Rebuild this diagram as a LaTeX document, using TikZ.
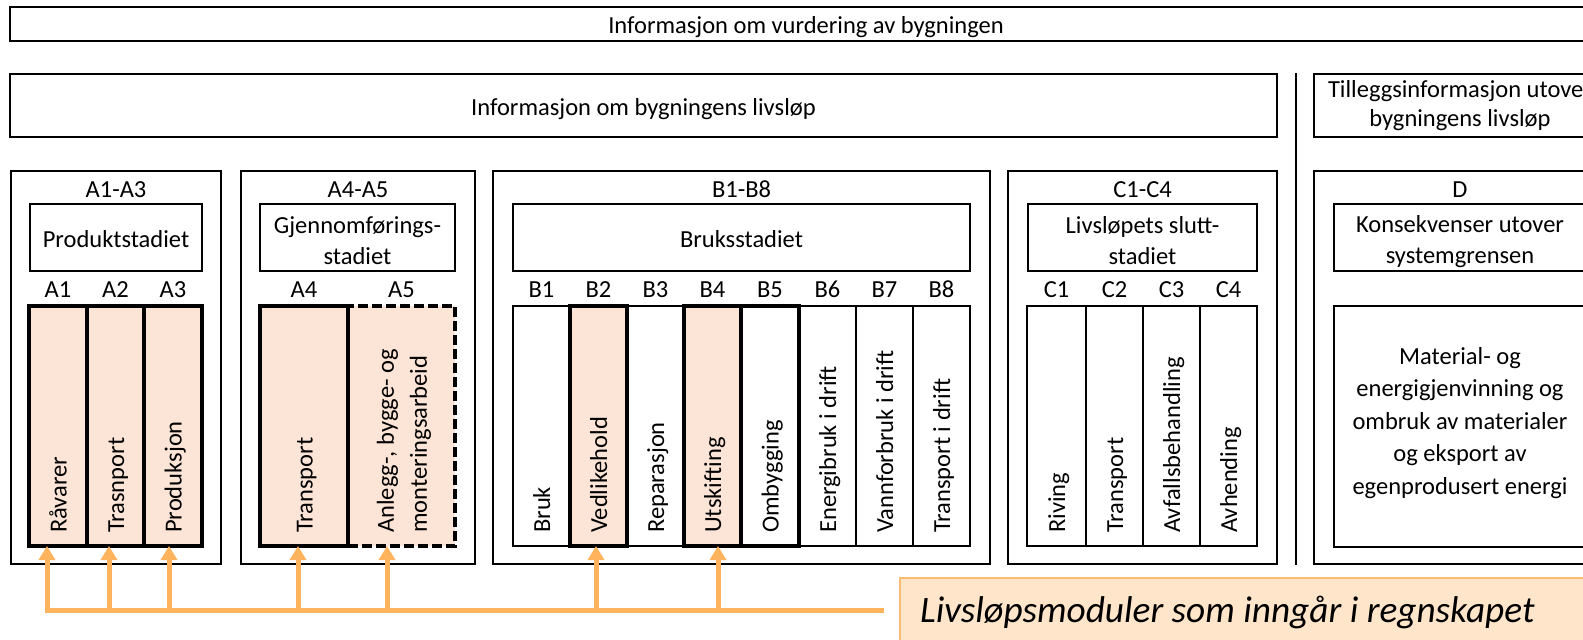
\documentclass[tikz,border=0pt]{standalone}
\usepackage{fontspec}
\setmainfont{Carlito}
\usetikzlibrary{fit,arrows.meta}
\definecolor{peach}{HTML}{FCE4D6}
\definecolor{orng}{HTML}{FFB35C}
\definecolor{legfill}{HTML}{FFE5CA}
\definecolor{legline}{HTML}{F9BA74}
\begin{document}
\begin{tikzpicture}[x=1pt,y=-1pt,
  font=\fontsize{24.5}{31}\selectfont,
  frame/.style={draw, line width=2.2pt, inner sep=0pt, outer sep=0pt},
  thincol/.style={draw, line width=1.6pt, inner sep=0pt, outer sep=0pt},
  hotcol/.style={draw, fill=peach, line width=3.3pt, inner sep=0pt, outer sep=0pt},
  boldcol/.style={draw, line width=3.3pt, inner sep=0pt, outer sep=0pt},
  txt/.style={inner sep=0pt, align=center},
  lbl/.style={inner sep=0pt, anchor=base},
  vtxt/.style={rotate=90, anchor=base west, inner sep=0pt},
  feed/.style={draw=orng, line width=5pt},
  feedarrow/.style={feed, -{Triangle[width=16pt,length=14pt]}}]
\useasboundingbox (0,0) rectangle (1583,640);
\clip (0,0) rectangle (1583,640);
\fill[white] (0,0) rectangle (1583,640);

% top rows
\node[frame, fit={(10,7) (1602,41)}] (top) {};
\node[txt] (toptext) at (806,27) {Informasjon om vurdering av bygningen};
\node[frame, fit={(10,74) (1277,137)}] (info) {};
\node[txt] (infotext) at (643.5,109) {Informasjon om bygningens livsløp};
\node[frame, fit={(1314,74) (1606,137)}] (till) {};
\node[txt, font=\fontsize{24.5}{29}\selectfont] (tilltext) at (1460,106) {Tilleggsinformasjon utover\\bygningens livsløp};
\coordinate (sepT) at (1296,73);
\coordinate (sepB) at (1296,565);
\draw[line width=2.2pt] (sepT) -- (sepB);

% outer groups
\node[frame, fit={(11,171) (221,564)}] (gA) {};
\node[frame, fit={(241,171) (475,564)}] (gAA) {};
\node[frame, fit={(493,171) (990,564)}] (gB) {};
\node[frame, fit={(1008,171) (1277,564)}] (gC) {};
\node[frame, fit={(1314,171) (1606,564)}] (gD) {};

\node[lbl] (lA) at (116,197) {A1-A3};
\node[lbl] (lAA) at (358,197) {A4-A5};
\node[lbl] (lB) at (741.5,197) {B1-B8};
\node[lbl] (lC) at (1142.5,197) {C1-C4};
\node[lbl] (lD) at (1460,197) {D};

% stage boxes
\node[frame, fit={(30,204) (202,271)}] (sA) {};
\node[txt] (sAt) at (116,239.5) {Produktstadiet};
\node[frame, fit={(260,204) (455,271)}] (sAA) {};
\node[txt] (sAAt) at (357.5,241) {Gjennomførings-\\stadiet};
\node[frame, fit={(513,204) (970,271)}] (sB) {};
\node[txt] (sBt) at (741.5,239.5) {Bruksstadiet};
\node[frame, fit={(1028,204) (1257,271)}] (sC) {};
\node[txt] (sCt) at (1142.5,241) {Livsløpets slutt-\\stadiet};
\node[frame, fit={(1334,204) (1586,271)}] (sD) {};
\node[txt] (sDt) at (1460,242) {Konsekvenser utover\\systemgrensen};

% module labels
\foreach \n/\x in {A1/58, A2/115.5, A3/173, A4/304, A5/401.5,
  B1/541.5, B2/598.5, B3/655.5, B4/712.5, B5/770, B6/827.5, B7/884.5, B8/941.5,
  C1/1056.5, C2/1114.5, C3/1171.5, C4/1228.5}
  \node[lbl] (l\n) at (\x,297) {\n};

% A columns
\node[hotcol, fit={(29,306) (87,546)}] (a1) {};
\node[hotcol, fit={(87,306) (144,546)}] (a2) {};
\node[hotcol, fit={(144,306) (202,546)}] (a3) {};
\node[draw, fill=peach, line width=3.3pt, dash pattern=on 10pt off 4pt, inner sep=0pt, outer sep=0pt, fit={(348,306) (455,546)}] (a5) {};
\node[hotcol, fit={(260,306) (348,546)}] (a4) {};

% B columns
\node[thincol, fit={(513,306) (570,546)}] (b1) {};
\node[thincol, fit={(627,306) (684,546)}] (b3) {};
\node[thincol, fit={(799,306) (856,546)}] (b6) {};
\node[thincol, fit={(856,306) (913,546)}] (b7) {};
\node[thincol, fit={(913,306) (970,546)}] (b8) {};
\node[boldcol, fit={(741,306) (799,546)}] (b5) {};
\node[hotcol, fit={(570,306) (627,546)}] (b2) {};
\node[hotcol, fit={(684,306) (741,546)}] (b4) {};

% C columns
\node[thincol, line width=2pt, fit={(1027,306) (1086,546)}] (c1) {};
\node[thincol, line width=2pt, fit={(1086,306) (1143,546)}] (c2) {};
\node[thincol, line width=2pt, fit={(1143,306) (1200,546)}] (c3) {};
\node[thincol, line width=2pt, fit={(1200,306) (1257,546)}] (c4) {};

% D content
\node[frame, fit={(1334,306) (1586,547)}] (dbox) {};
\node[txt, font=\fontsize{24.5}{32.5}\selectfont] (dtext) at (1460,423) {Material- og\\energigjenvinning og\\ombruk av materialer\\og eksport av\\egenprodusert energi};

% vertical texts
\foreach \nm/\x/\t in {a1/58/Råvarer, a2/115.5/Trasnport, a3/173/Produksjon, a4/304/Transport,
  b1/541.5/Bruk, b2/598.5/Vedlikehold, b3/655.5/Reparasjon, b4/712.5/Utskifting, b5/770/Ombygging,
  b6/827.5/Energibruk i drift, b7/884.5/Vannforbruk i drift, b8/941.5/Transport i drift,
  c1/1056.5/Riving, c2/1114.5/Transport, c3/1171.5/Avfallsbehandling, c4/1228.5/Avhending}
  \node[vtxt] (t\nm) at (\x+8.5,533) {\t};
\node[rotate=90, anchor=west, inner sep=0pt, align=left, font=\fontsize{24.5}{33}\selectfont] (ta5) at (404,533) {Anlegg-, bygge- og\\monteringsarbeid};

% legend
\node[draw=legline, fill=legfill, line width=1.6pt, inner sep=0pt, fit={(900,578) (1640,680)}] (legend) {};
\node[anchor=base west, inner sep=0pt, font=\fontsize{37.3}{40}\selectfont\itshape] (legtext) at (920,622) {Livsløpsmoduler som inngår i regnskapet};

% feed arrows
\coordinate (bus) at (0,610);
\draw[feedarrow, shorten <=15pt] (legend.west |- bus) -- ([xshift=-11pt]a1.south |- bus) -- ([xshift=-11pt]a1.south);
\draw[feedarrow] ([xshift=-6.5pt]a2.south |- bus) -- ([xshift=-6.5pt]a2.south);
\draw[feedarrow] ([xshift=-4pt]a3.south |- bus) -- ([xshift=-4pt]a3.south);
\draw[feedarrow] ([xshift=-6pt]a4.south |- bus) -- ([xshift=-6pt]a4.south);
\draw[feedarrow] ([xshift=-14.5pt]a5.south |- bus) -- ([xshift=-14.5pt]a5.south);
\draw[feedarrow] ([xshift=-2.5pt]b2.south |- bus) -- ([xshift=-2.5pt]b2.south);
\draw[feedarrow] ([xshift=5.5pt]b4.south |- bus) -- ([xshift=5.5pt]b4.south);
\end{tikzpicture}
\end{document}
